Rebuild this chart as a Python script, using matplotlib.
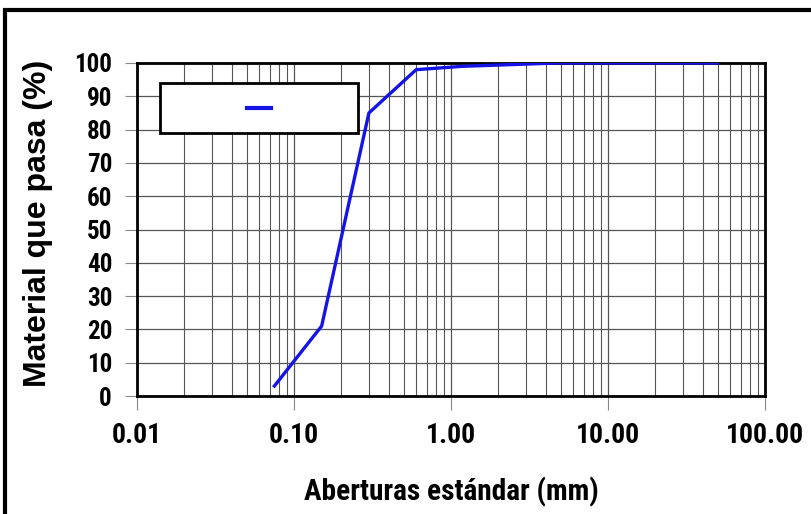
import matplotlib
matplotlib.use("Agg")
import matplotlib.pyplot as plt
import matplotlib.font_manager as fm
from matplotlib.ticker import FixedLocator, LogLocator, NullFormatter
from matplotlib.patches import Rectangle
from matplotlib.lines import Line2D

# Data
sieve_mm = [0.075, 0.15, 0.30, 0.60, 1.18, 2.36, 4.75, 9.5, 19.0, 25.0, 37.5, 50.0]
passing = [3, 21, 85, 98, 99, 99.5, 100, 100, 100, 100, 100, 100]
x_ticks = [0.01, 0.1, 1, 10, 100]
x_tick_labels = ["0.01", "0.10", "1.00", "10.00", "100.00"]
y_ticks = list(range(0, 101, 10))
x_label = "Aberturas estándar (mm)"
y_label = "Material que pasa (%)"


def is_bold(w):
    try:
        return int(w) >= 600
    except (TypeError, ValueError):
        return str(w).lower() in ('bold', 'semibold', 'demibold', 'heavy', 'black', 'extra bold')


def find_narrow_bold():
    prefs = ['Liberation Sans Narrow', 'Roboto Condensed', 'Noto Sans Condensed',
             'Open Sans Condensed', 'Noto Sans', 'Roboto', 'Open Sans', 'Liberation Sans']
    cands = []
    for f in fm.fontManager.ttflist:
        nm = f.name
        if any(b in nm for b in ('Mono', 'Serif', 'DejaVu', 'CJK')):
            continue
        narrow = ('Narrow' in nm or 'Condensed' in nm or
                  str(f.stretch) in ('condensed', 'semi-condensed', 'extra-condensed')
                  or 'ondensed' in f.fname or 'Narrow' in f.fname)
        if narrow and is_bold(f.weight) and f.style == 'normal':
            rank = next((i for i, p in enumerate(prefs) if nm.startswith(p)), 99)
            cands.append((rank, f.fname))
    if cands:
        cands.sort()
        return fm.FontProperties(fname=cands[0][1])
    return fm.FontProperties(family=['Liberation Sans', 'DejaVu Sans'], weight='bold')


narrow_fp = find_narrow_bold()
regular_fp = fm.FontProperties(family=['Liberation Sans', 'DejaVu Sans'], weight='bold')

fig = plt.figure(figsize=(8.11, 5.14), dpi=100)
# outer frame
fig.patches.append(Rectangle((5/811, -0.1), 1.2, 1 - 10/514 + 0.1, transform=fig.transFigure,
                             fill=False, edgecolor='black', linewidth=3))

L, R, T, B = 137, 765, 63, 396
ax = fig.add_axes([L/811, 1 - B/514, (R - L)/811, (B - T)/514])
ax.set_xscale('log')
ax.set_xlim(0.01, 100)
ax.set_ylim(0, 100)

ax.plot(sieve_mm, passing, color='#1414e6', linewidth=2.4, zorder=3)

ax.xaxis.set_major_locator(FixedLocator(x_ticks))
ax.set_xticklabels(x_tick_labels)
ax.xaxis.set_minor_locator(LogLocator(base=10, subs=range(2, 10)))
ax.xaxis.set_minor_formatter(NullFormatter())
ax.set_yticks(y_ticks)

ax.grid(True, which='major', axis='both', color='#555555', linewidth=0.9)
ax.grid(True, which='minor', axis='x', color='#555555', linewidth=0.8)

for s in ax.spines.values():
    s.set_linewidth(2)
    s.set_color('black')

ax.tick_params(axis='x', which='major', direction='out', length=10, width=0.8,
               color='#888888', pad=9)
ax.tick_params(axis='y', which='major', direction='out', length=9, width=0.8,
               color='#888888', pad=9)
ax.tick_params(axis='x', which='minor', length=0)

xl = ax.set_xlabel(x_label)
yl = ax.set_ylabel(y_label)
xl.set_fontproperties(narrow_fp)
yl.set_fontproperties(regular_fp)
for lab in ax.get_xticklabels() + ax.get_yticklabels():
    lab.set_fontproperties(narrow_fp)

# size text to the reference's measured extents (pixels)
fig.canvas.draw()
rend = fig.canvas.get_renderer()


def fit(texts, ref_text, target, use_height=False, start=20):
    ref_text.set_fontsize(start)
    ext = ref_text.get_window_extent(rend)
    size = start * target / (ext.height if use_height else ext.width)
    for t in texts:
        t.set_fontsize(size)
    return size


xt = ax.get_xticklabels()
yt = ax.get_yticklabels()
fit(xt, xt[-1], 78)
fit(yt, yt[-1], 38)
fit([xl], xl, 295)
fit([yl], yl, 327, use_height=True)

ax.xaxis.set_label_coords(0.5, (B - 477) / (B - T))
ax.yaxis.set_label_coords((53 - L) / (R - L), (B - 223) / (B - T))

# legend box (empty label)
x0 = (160 - L) / (R - L)
x1 = (358 - L) / (R - L)
y1 = (B - 83) / (B - T)
y0 = (B - 133) / (B - T)
ax.add_patch(Rectangle((x0, y0), x1 - x0, y1 - y0, transform=ax.transAxes,
                       facecolor='white', edgecolor='black', linewidth=2, zorder=5))
xc = (x0 + x1) / 2
ax.add_line(Line2D([xc - 12/628, xc + 12/628], [(y0 + y1) / 2] * 2, transform=ax.transAxes,
                   color='#1414e6', linewidth=3, zorder=6))

fig.savefig("out.png", dpi=100)
